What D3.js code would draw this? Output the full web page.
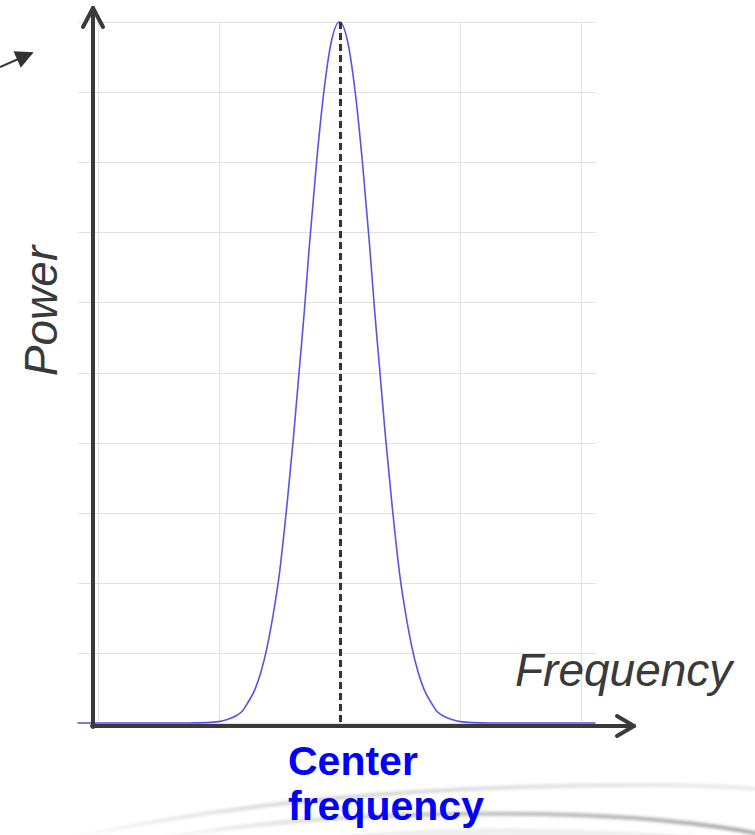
<!DOCTYPE html>
<html>
<head>
  <meta charset="utf-8">
  <title>Power vs Frequency</title>
  <style>
    body { margin: 0; background: #fff; }
    svg { display: block; }
    .grid line { stroke: #e2e2e2; stroke-width: 1; }
    .axis-line { stroke: #3a3a3a; stroke-width: 4; fill: none; stroke-linecap: round; stroke-linejoin: round; }
    .label { font-family: "Liberation Sans", Arial, sans-serif; fill: #3a3a3a; font-style: italic; font-size: 46px; }
    .center-label { font-family: "Liberation Sans", Arial, sans-serif; fill: #0000ff; font-weight: bold; font-size: 41px; }
  </style>
</head>
<body>
  <div id="chart"></div>
  <script src="https://d3js.org/d3.v7.min.js"></script>
  <script>
    // frequency offsets from the center frequency (grid units) and normalised power
    var freqs = [-2.17, -1.5, -1.25, -1.1, -1.0, -0.93, -0.85, -0.8, -0.77, -0.7, -0.65, -0.6, -0.55, -0.5, -0.43, -0.38, -0.33, -0.29, -0.25, -0.19, -0.13, -0.07, 0,
                 0.07, 0.13, 0.19, 0.25, 0.29, 0.33, 0.38, 0.43, 0.5, 0.55, 0.6, 0.65, 0.7, 0.77, 0.8, 0.85, 0.93, 1.0, 1.1, 1.25, 1.5, 2.12];
    var power = [0, 0, 0.0001, 0.0006, 0.002, 0.005, 0.011, 0.018, 0.026, 0.048, 0.073, 0.108, 0.154, 0.21, 0.32, 0.41, 0.51, 0.59, 0.68, 0.80, 0.90, 0.97, 1,
                 0.97, 0.90, 0.80, 0.68, 0.59, 0.51, 0.41, 0.32, 0.21, 0.154, 0.108, 0.073, 0.048, 0.026, 0.018, 0.011, 0.005, 0.002, 0.0006, 0.0001, 0, 0];
    var centerFreq = 0;
    var freqExtent = [-2.17, 2.12];
    var xLabel = "Frequency",
      yLabel = "Power",
      centerLabel = ["Center", "frequency"];

    var width = 755, height = 835;

    var svg = d3.select("#chart").append("svg")
      .attr("width", width)
      .attr("height", height);

    var x = d3.scaleLinear().domain([-2, 2]).range([98, 581]);
    var y = d3.scaleLinear().domain([0, 1]).range([723, 22]);

    // background swoosh decoration
    var defs = svg.append("defs");
    var g1 = defs.append("linearGradient").attr("id", "sw1").attr("x1", "0").attr("x2", "1");
    g1.append("stop").attr("offset", "0").attr("stop-color", "#ffffff");
    g1.append("stop").attr("offset", "0.35").attr("stop-color", "#d2d2d2");
    g1.append("stop").attr("offset", "1").attr("stop-color", "#ececec");
    var g2 = defs.append("linearGradient").attr("id", "sw2").attr("x1", "0").attr("x2", "1");
    g2.append("stop").attr("offset", "0").attr("stop-color", "#ffffff");
    g2.append("stop").attr("offset", "0.45").attr("stop-color", "#c4c4c4");
    g2.append("stop").attr("offset", "1").attr("stop-color", "#a8a8a8");
    defs.append("filter").attr("id", "blur").append("feGaussianBlur").attr("stdDeviation", 1.8);

    var sw = svg.append("g").attr("filter", "url(#blur)");
    sw.append("path")
      .attr("d", "M60,840 C220,805 380,790 560,786 C650,784 720,786 760,789")
      .attr("fill", "none").attr("stroke", "url(#sw1)").attr("stroke-width", 4);
    sw.append("path")
      .attr("d", "M140,842 C270,818 400,812 540,814 C640,816 710,824 760,834")
      .attr("fill", "none").attr("stroke", "url(#sw2)").attr("stroke-width", 4);
    sw.append("path")
      .attr("d", "M300,845 C420,828 560,828 760,845")
      .attr("fill", "none").attr("stroke", "#e2e2e2").attr("stroke-width", 8).attr("opacity", 0.6);

    // grid
    var grid = svg.append("g").attr("class", "grid");
    grid.selectAll(".h").data(y.ticks(10)).enter().append("line")
      .attr("x1", x(freqExtent[0])).attr("x2", x(freqExtent[1]))
      .attr("y1", function (d) { return Math.round(y(d)) + 0.5; })
      .attr("y2", function (d) { return Math.round(y(d)) + 0.5; });
    grid.selectAll(".v").data(x.ticks(4)).enter().append("line")
      .attr("y1", y(1)).attr("y2", y(0))
      .attr("x1", function (d) { return Math.round(x(d)) + 0.5; })
      .attr("x2", function (d) { return Math.round(x(d)) + 0.5; });

    // power curve
    var pts = freqs.map(function (f, i) { return [f, power[i]]; });
    var line = d3.line()
      .x(function (d) { return x(d[0]); })
      .y(function (d) { return y(d[1]); })
      .curve(d3.curveMonotoneX);
    svg.append("path")
      .datum(pts)
      .attr("d", line)
      .attr("fill", "none")
      .attr("stroke", "#5656e6")
      .attr("stroke-width", 1.6);

    // center frequency marker
    svg.append("line")
      .attr("x1", x(centerFreq) + 1).attr("x2", x(centerFreq) + 1)
      .attr("y1", y(1)).attr("y2", y(0))
      .attr("stroke", "#333").attr("stroke-width", 3)
      .attr("stroke-dasharray", "7,4");

    // axes with open arrow heads
    var ax = 93, ay = 726;
    svg.append("path").attr("class", "axis-line")
      .attr("d", "M" + ax + "," + (ay + 1) + " L" + ax + ",8");
    svg.append("path").attr("class", "axis-line")
      .attr("d", "M" + (ax - 10) + ",27 L" + ax + ",8 L" + (ax + 10) + ",27");
    svg.append("path").attr("class", "axis-line")
      .attr("d", "M" + (ax - 1) + "," + ay + " L634," + ay);
    svg.append("path").attr("class", "axis-line")
      .attr("d", "M617," + (ay - 10) + " L634," + ay + " L617," + (ay + 10));

    // small pointer arrow top-left
    defs.append("marker").attr("id", "tri")
      .attr("viewBox", "0 0 10 10").attr("refX", 9).attr("refY", 5)
      .attr("markerWidth", 20).attr("markerHeight", 18).attr("orient", "auto")
      .attr("markerUnits", "userSpaceOnUse")
      .append("path").attr("d", "M0,0 L10,5 L0,10 Z").attr("fill", "#333");
    svg.append("line")
      .attr("x1", 0).attr("y1", 67).attr("x2", 32).attr("y2", 53)
      .attr("stroke", "#333").attr("stroke-width", 2)
      .attr("marker-end", "url(#tri)");

    // labels
    svg.append("text").attr("class", "label")
      .attr("transform", "translate(57,311) rotate(-90)")
      .attr("text-anchor", "middle")
      .text(yLabel);
    svg.append("text").attr("class", "label")
      .attr("x", 515).attr("y", 686)
      .text(xLabel);
    svg.append("text").attr("class", "center-label")
      .selectAll("tspan").data(centerLabel).enter().append("tspan")
      .attr("x", 288)
      .attr("y", function (d, i) { return 775 + i * 45; })
      .text(function (d) { return d; });
  </script>
</body>
</html>
